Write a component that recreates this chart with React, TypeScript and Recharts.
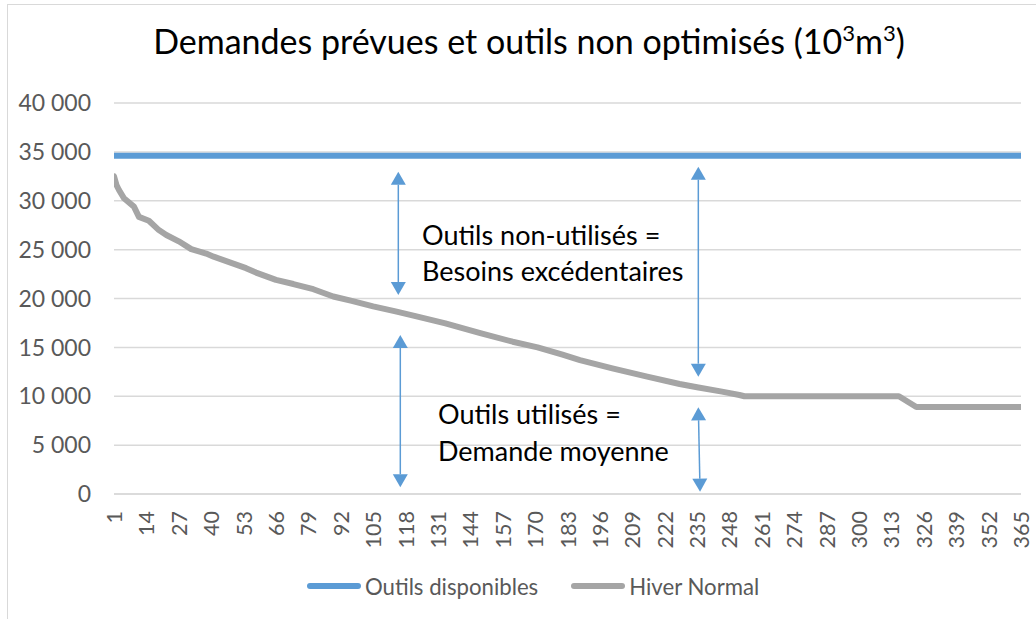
import React from 'react'
import { LineChart, Line, XAxis, YAxis, CartesianGrid, ReferenceLine } from 'recharts'

const TITLE = 'Demandes prévues et outils non optimisés (10'

const dayTicks = [1, 14, 27, 40, 53, 66, 79, 92, 105, 118, 131, 144, 157, 170, 183, 196, 209, 222, 235, 248, 261, 274, 287, 300, 313, 326, 339, 352, 365]
const valueTicks = [0, 5000, 10000, 15000, 20000, 25000, 30000, 35000, 40000]

// Outils disponibles: flat capacity
const outilsDays = [1, 365]
const outilsValues = [34600, 34600]

// Hiver Normal: sorted daily demand
const hiverDays = [1, 2, 3, 5, 9, 11, 15, 19, 22, 27, 32, 38, 41, 54, 58, 66, 73, 81, 89, 96, 105, 114, 122, 134, 148, 161, 171, 181, 188, 201, 215, 228, 235, 245, 252, 254, 316, 323, 365]
const hiverValues = [32500, 31600, 31100, 30250, 29400, 28350, 27950, 27000, 26500, 25850, 25050, 24600, 24280, 23100, 22650, 21900, 21480, 20950, 20200, 19780, 19200, 18680, 18200, 17450, 16450, 15580, 15000, 14250, 13700, 12850, 12000, 11250, 10920, 10470, 10130, 10000, 10000, 8900, 8900]

// double-headed annotation arrows, in data units
const arrowDayFrom = [115.1, 115.9, 235.5, 235.5]
const arrowDayTo = [115.1, 115.9, 235.5, 236.2]
const arrowTop = [32970, 16270, 33480, 8870]
const arrowBottom = [20360, 685, 12000, 235]

const BLUE = '#5B9BD5'
const GRAY = '#A5A5A5'
const FONT = 'Lato, "Open Sans", sans-serif'

const outilsData = outilsDays.map((d, i) => ({ day: d, value: outilsValues[i] }))
const hiverData = hiverDays.map((d, i) => ({ day: d, value: hiverValues[i] }))

const fmt = (v: number) => {
  if (v < 1000) return String(v)
  const k = Math.floor(v / 1000)
  const r = String(v % 1000).padStart(3, '0')
  return `${k} ${r}`
}

function XTick({ x, y, payload }: any) {
  return (
    <text
      x={x}
      y={y}
      transform={`rotate(-90 ${x} ${y})`}
      textAnchor="end"
      dominantBaseline="central"
      fill="#595959"
      fontSize={21.5}
      fontFamily={FONT}
    >
      {payload.value}
    </text>
  )
}

function Arrow(props: any) {
  const { x1, y1, x2, y2 } = props
  const dx = x2 - x1
  const dy = y2 - y1
  const len = Math.sqrt(dx * dx + dy * dy) || 1
  const ux = dx / len
  const uy = dy / len
  const head = 13
  const half = 7.5
  const px = -uy
  const py = ux
  const tri = (tx: number, ty: number, sx: number, sy: number) => {
    const bx = tx - sx * head
    const by = ty - sy * head
    return `${tx},${ty} ${bx + px * half},${by + py * half} ${bx - px * half},${by - py * half}`
  }
  return (
    <g>
      <line
        x1={x1 + ux * head}
        y1={y1 + uy * head}
        x2={x2 - ux * head}
        y2={y2 - uy * head}
        stroke={BLUE}
        strokeWidth={1.5}
      />
      <polygon points={tri(x1, y1, -ux, -uy)} fill={BLUE} />
      <polygon points={tri(x2, y2, ux, uy)} fill={BLUE} />
    </g>
  )
}

const legendItems = [
  { label: 'Outils disponibles', color: BLUE },
  { label: 'Hiver Normal', color: GRAY },
]

export default function App() {
  return (
    <div style={{ position: 'fixed', left: 0, top: 0, width: 1036, height: 619, overflow: 'hidden', background: '#fff' }}>
      <div style={{ position: 'absolute', left: 7, top: 4, width: 1100, height: 700, border: '1.5px solid #d9d9d9' }} />
      <div style={{ position: 'absolute', left: 0, top: 0 }}>
        <LineChart width={1036} height={619} margin={{ top: 103, right: 15, left: 24, bottom: 65 }}>
          <CartesianGrid vertical={false} stroke="#d9d9d9" strokeWidth={1.5} />
          <XAxis
            dataKey="day"
            type="number"
            domain={[1, 365]}
            ticks={dayTicks}
            interval={0}
            height={60}
            tick={<XTick />}
            tickLine={false}
            tickSize={6}
            tickMargin={11}
            axisLine={{ stroke: '#d9d9d9', strokeWidth: 1.5 }}
            allowDataOverflow
          />
          <YAxis
            type="number"
            domain={[0, 40000]}
            ticks={valueTicks}
            width={90}
            tickFormatter={fmt}
            tickLine={false}
            axisLine={false}
            tickSize={6}
            tickMargin={17}
            tick={{ fill: '#595959', fontSize: 23, fontFamily: FONT }}
          />
          <Line
            data={outilsData}
            dataKey="value"
            name="Outils disponibles"
            stroke={BLUE}
            strokeWidth={6}
            strokeLinecap="round"
            dot={false}
            isAnimationActive={false}
          />
          <Line
            data={hiverData}
            dataKey="value"
            name="Hiver Normal"
            stroke={GRAY}
            strokeWidth={6}
            strokeLinecap="round"
            strokeLinejoin="round"
            dot={false}
            isAnimationActive={false}
          />
          {arrowTop.map((t, i) => (
            <ReferenceLine
              key={i}
              segment={[
                { x: arrowDayFrom[i], y: t },
                { x: arrowDayTo[i], y: arrowBottom[i] },
              ]}
              shape={<Arrow />}
            />
          ))}
        </LineChart>
      </div>
      <svg width={1036} height={619} style={{ position: 'absolute', left: 0, top: 0, pointerEvents: 'none' }}>
        <text x={529} y={54} textAnchor="middle" fontSize={34} fontFamily={FONT} fill="#000">
          {TITLE}
          <tspan dy={-13} fontSize={22}>3</tspan>
          <tspan dy={13}>m</tspan>
          <tspan dy={-13} fontSize={22}>3</tspan>
          <tspan dy={13}>)</tspan>
        </text>
        <g fontSize={27} fontFamily={FONT} fill="#000">
          <text x={422} y={245}>Outils non-utilisés =</text>
          <text x={422} y={281}>Besoins excédentaires</text>
          <text x={438} y={424}>Outils utilisés =</text>
          <text x={438} y={461}>Demande moyenne</text>
        </g>
      </svg>
      <div
        style={{
          position: 'absolute',
          left: 307,
          top: 572,
          display: 'flex',
          alignItems: 'center',
          fontFamily: FONT,
          fontSize: 22.2,
          color: '#595959',
          height: 28,
        }}
      >
        {legendItems.map((it, i) => (
          <div key={it.label} style={{ display: 'flex', alignItems: 'center', marginLeft: i === 0 ? 0 : 33 }}>
            <span style={{ display: 'inline-block', width: 54, height: 6, borderRadius: 3, background: it.color, marginRight: 4 }} />
            <span>{it.label}</span>
          </div>
        ))}
      </div>
    </div>
  )
}
